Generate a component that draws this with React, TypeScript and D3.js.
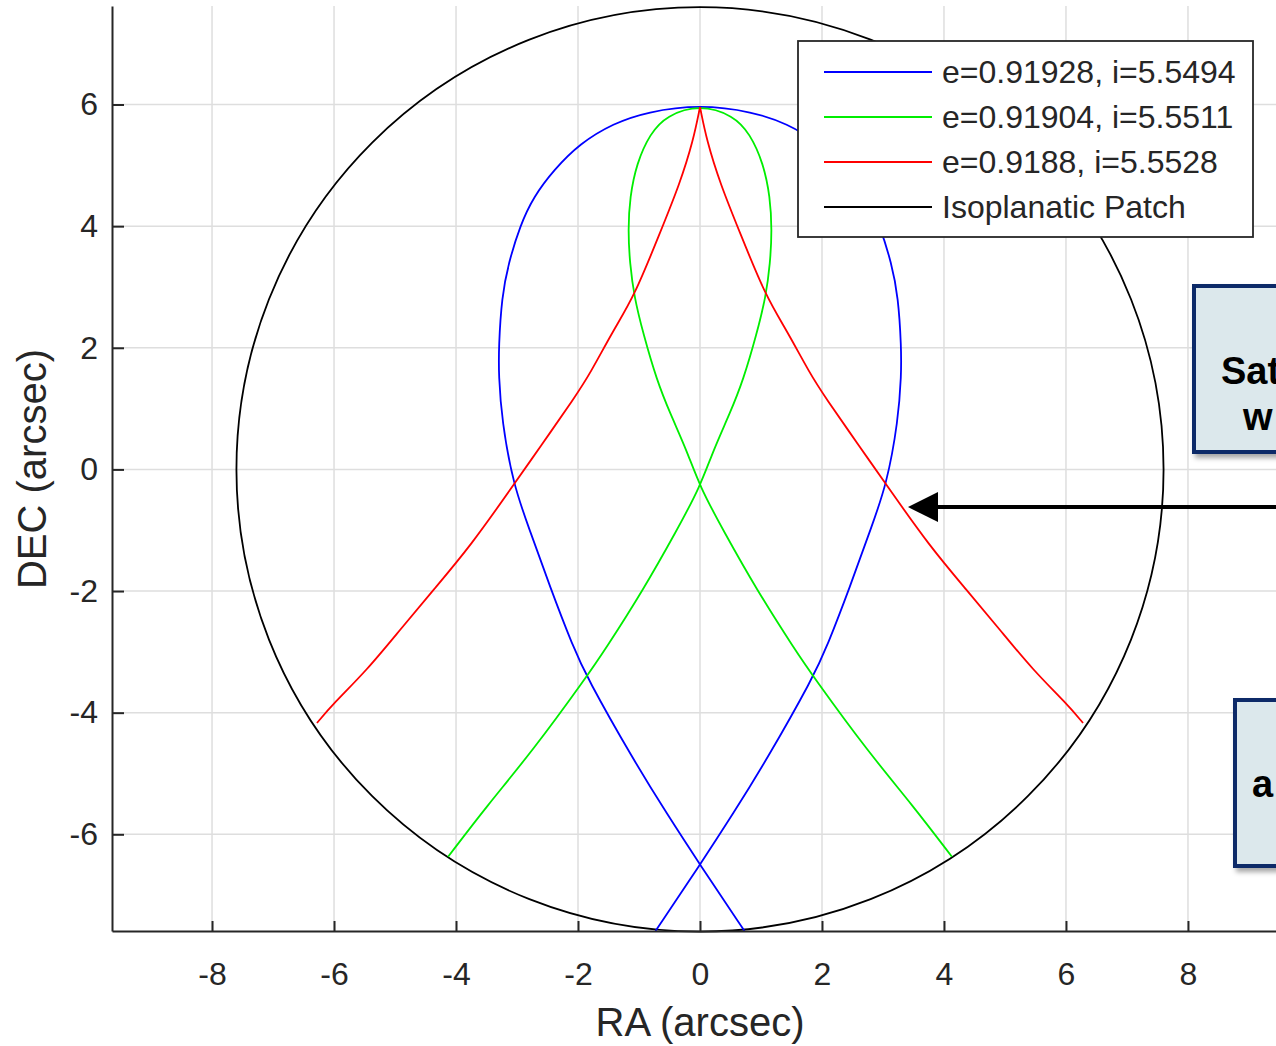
import React, { useEffect, useRef } from 'react';
import * as d3 from 'd3';

// tick values
const raTicks = [-8, -6, -4, -2, 0, 2, 4, 6, 8];
const decTicks = [-6, -4, -2, 0, 2, 4, 6];

// legend labels
const seriesNames = ['e=0.91928, i=5.5494', 'e=0.91904, i=5.5511', 'e=0.9188, i=5.5528', 'Isoplanatic Patch'];

// tracks, [RA, DEC] in arcsec
const blueTrack: [number, number][] = [
  [-0.73, -7.59], [0, -6.5], [0.55, -5.65], [1.09, -4.78], [1.86, -3.41], [2.08, -2.92],
  [2.46, -1.93], [2.79, -1.0], [3.06, -0.26], [3.25, 0.81], [3.3, 1.55], [3.3, 2.01],
  [3.25, 2.84], [3.14, 3.39], [2.95, 4.01], [2.73, 4.48], [2.4, 4.92], [1.97, 5.36],
  [1.42, 5.69], [0.87, 5.88], [0, 6.0], [-0.87, 5.88], [-1.42, 5.69], [-1.97, 5.36],
  [-2.4, 4.92], [-2.73, 4.48], [-2.95, 4.01], [-3.14, 3.39], [-3.25, 2.84], [-3.3, 2.01],
  [-3.3, 1.55], [-3.25, 0.81], [-3.06, -0.26], [-2.79, -1.0], [-2.46, -1.93], [-2.08, -2.92],
  [-1.86, -3.41], [-1.09, -4.78], [-0.55, -5.65], [0, -6.5], [0.73, -7.59],
];

const greenTrack: [number, number][] = [
  [-4.13, -6.37], [-3.5, -5.54], [-2.73, -4.61], [-1.86, -3.41], [-1.56, -2.97], [-0.93, -1.98],
  [-0.38, -1.0], [0, -0.29], [0.22, 0.32], [0.49, 0.92], [0.71, 1.47], [0.93, 2.23],
  [1.08, 2.84], [1.15, 3.39], [1.18, 3.93], [1.15, 4.48], [1.04, 5.03], [0.82, 5.52],
  [0.55, 5.82], [0, 6.0], [-0.55, 5.82], [-0.82, 5.52], [-1.04, 5.03], [-1.15, 4.48],
  [-1.18, 3.93], [-1.15, 3.39], [-1.08, 2.84], [-0.93, 2.23], [-0.71, 1.47], [-0.49, 0.92],
  [-0.22, 0.32], [0, -0.29], [0.38, -1.0], [0.93, -1.98], [1.56, -2.97], [1.86, -3.41],
  [2.73, -4.61], [3.5, -5.54], [4.13, -6.37],
];

const redTrack: [number, number][] = [
  [-6.28, -4.17], [-6.01, -3.85], [-5.46, -3.3], [-4.92, -2.64], [-4.37, -1.98], [-3.77, -1.27],
  [-3.06, -0.26], [-2.62, 0.37], [-2.05, 1.19], [-1.8, 1.58], [-1.42, 2.29], [-1.08, 2.84],
  [-0.66, 3.88], [-0.33, 4.7], [-0.11, 5.41], [0, 5.96], [0.11, 5.41], [0.33, 4.7],
  [0.66, 3.88], [1.08, 2.84], [1.42, 2.29], [1.8, 1.58], [2.05, 1.19], [2.62, 0.37],
  [3.06, -0.26], [3.77, -1.27], [4.37, -1.98], [4.92, -2.64], [5.46, -3.3], [6.01, -3.85],
  [6.28, -4.17],
];

// isoplanatic patch radius (arcsec)
const patchRadius = 7.6;
// point the arrow is aimed at
const arrowTarget: [number, number] = [3.41, -0.62];

const W = 1276;
const H = 1046;
const FONT = '"Liberation Sans", Arial, Helvetica, sans-serif';
const INK = '#262626';

// split a track at its highest point so a cusp stays sharp
const splitAtTop = (track: [number, number][]) => {
  const i = d3.maxIndex(track, (d) => d[1]);
  return [track.slice(0, i + 1), track.slice(i)];
};

const App: React.FC = () => {
  const xAxisRef = useRef<SVGGElement>(null);
  const yAxisRef = useRef<SVGGElement>(null);

  const x = d3.scaleLinear().domain([-9.64, 9.64]).range([112, 1288]);
  const y = d3.scaleLinear().domain([-7.59, 7.62]).range([931, 6]);

  useEffect(() => {
    if (!xAxisRef.current || !yAxisRef.current) return;
    const fmt = (d: d3.NumberValue) => String(d);

    const gx = d3.select(xAxisRef.current);
    gx.selectAll('*').remove();
    gx.call(d3.axisBottom(x).tickValues(raTicks).tickSizeInner(-10).tickSizeOuter(0).tickPadding(31).tickFormat(fmt));
    gx.attr('font-family', FONT).attr('font-size', 32);
    gx.select('.domain').attr('stroke', INK).attr('stroke-width', 2);
    gx.selectAll('.tick line').attr('stroke', INK).attr('stroke-width', 2);
    gx.selectAll('.tick text').attr('fill', INK);

    const gy = d3.select(yAxisRef.current);
    gy.selectAll('*').remove();
    gy.call(d3.axisLeft(y).tickValues(decTicks).tickSizeInner(-12).tickSizeOuter(0).tickPadding(14).tickFormat(fmt));
    gy.attr('font-family', FONT).attr('font-size', 32);
    gy.select('.domain').attr('stroke', INK).attr('stroke-width', 2);
    gy.selectAll('.tick line').attr('stroke', INK).attr('stroke-width', 2);
    gy.selectAll('.tick text').attr('fill', INK);
  }, []);

  const line = d3
    .line<[number, number]>()
    .x((d) => x(d[0]))
    .y((d) => y(d[1]))
    .curve(d3.curveBasis);

  const series = [
    { name: seriesNames[0], parts: [blueTrack], color: '#0000ff' },
    { name: seriesNames[1], parts: [greenTrack], color: '#00ee00' },
    { name: seriesNames[2], parts: splitAtTop(redTrack), color: '#ff0000' },
  ];
  const legendItems = [...series.map((s) => ({ name: s.name, color: s.color })), { name: seriesNames[3], color: '#000000' }];

  const [tx, ty] = [x(arrowTarget[0]), y(arrowTarget[1])];

  return (
    <svg
      width={W}
      height={H}
      style={{ position: 'absolute', left: 0, top: 0, background: '#fff' }}
      fontFamily={FONT}
    >
      <defs>
        <filter id="shadow" x="-10%" y="-10%" width="130%" height="130%">
          <feDropShadow dx="3" dy="4" stdDeviation="2.5" floodColor="#000" floodOpacity="0.35" />
        </filter>
      </defs>
      <rect width={W} height={H} fill="#fff" />

      {/* grid */}
      <g stroke="#dedede" strokeWidth={1.5}>
        {raTicks.map((t) => (
          <line key={'gx' + t} x1={x(t)} x2={x(t)} y1={y.range()[1]} y2={y.range()[0]} />
        ))}
        {decTicks.map((t) => (
          <line key={'gy' + t} x1={x.range()[0]} x2={W} y1={y(t)} y2={y(t)} />
        ))}
      </g>

      {/* isoplanatic patch */}
      <ellipse
        cx={x(0)}
        cy={y(0)}
        rx={x(patchRadius) - x(0)}
        ry={y(0) - y(patchRadius)}
        fill="none"
        stroke="#000"
        strokeWidth={1.8}
      />

      {series.map((s) =>
        s.parts.map((p, k) => (
          <path key={s.name + k} d={line(p) || ''} fill="none" stroke={s.color} strokeWidth={1.8} />
        ))
      )}

      <g ref={xAxisRef} transform={`translate(0,${y.range()[0]})`} />
      <g ref={yAxisRef} transform={`translate(${x.range()[0]},0)`} />

      <text x={700} y={1036} textAnchor="middle" fontSize={40} fill={INK}>
        RA (arcsec)
      </text>
      <text transform="translate(46,469) rotate(-90)" textAnchor="middle" fontSize={40} fill={INK}>
        DEC (arcsec)
      </text>

      {/* legend */}
      <g>
        <rect x={798} y={41} width={455} height={196} fill="#fff" stroke={INK} strokeWidth={1.8} />
        {legendItems.map((d, i) => (
          <g key={d.name} transform={`translate(0,${72 + i * 45})`}>
            <line x1={824} x2={932} y1={0} y2={0} stroke={d.color} strokeWidth={1.8} />
            <text x={942} y={11} fontSize={32} fill={INK}>
              {d.name}
            </text>
          </g>
        ))}
      </g>

      {/* annotations */}
      <g filter="url(#shadow)">
        <rect x={1194} y={286} width={300} height={166} fill="#dce8ec" stroke="#0d2a68" strokeWidth={4} />
        <rect x={1235} y={700} width={300} height={166} fill="#dce8ec" stroke="#0d2a68" strokeWidth={4} />
      </g>
      <g fontWeight="bold" fontSize={38} fill="#000">
        <text x={1221} y={384}>Sat</text>
        <text x={1243} y={430}>w</text>
        <text x={1252} y={797}>a</text>
      </g>

      <line x1={W} x2={tx + 30} y1={ty} y2={ty} stroke="#000" strokeWidth={4} />
      <path d={`M${tx},${ty} L${tx + 30},${ty - 15} L${tx + 30},${ty + 15} Z`} fill="#000" />
    </svg>
  );
};

export default App;
